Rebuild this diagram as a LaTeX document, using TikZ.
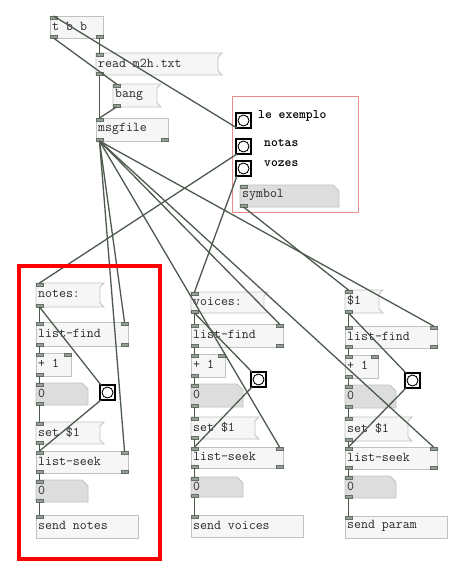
\documentclass[tikz,border=0pt]{standalone}
\usepackage{fontspec}
\definecolor{boxline}{RGB}{192,196,192}
\definecolor{boxfill}{RGB}{245,246,245}
\definecolor{atomfill}{RGB}{220,221,220}
\definecolor{ioletc}{RGB}{150,160,150}
\definecolor{ioletd}{RGB}{100,110,100}
\definecolor{connc}{RGB}{78,90,78}
\definecolor{textc}{RGB}{40,40,40}
\definecolor{framec}{RGB}{232,140,140}
\tikzset{
  objbox/.style={draw=boxline, fill=boxfill, line width=0.8pt},
  atombox/.style={draw=boxline, fill=atomfill, line width=0.8pt},
  iolet/.style={fill=ioletc, draw=ioletd, line width=0.4pt},
  conn/.style={draw=connc, line width=1.3pt},
  pdtext/.style={font=\ttfamily\fontsize{13.5}{13.5}\selectfont, text=textc, inner sep=0pt},
  bnglabel/.style={font=\ttfamily\bfseries\fontsize{13}{13}\selectfont, text=black, inner sep=0pt, anchor=west},
  bngsq/.style={draw=black, fill=white, line width=1.3pt},
  bngci/.style={draw=black, line width=0.9pt},
}
\newcommand{\pdports}[7]{%
  \path[iolet] (#2,#3) rectangle ++(7,3);
  \coordinate (#1-i) at ({#2+3.5},#3);
  \ifnum#6>1 \path[iolet] ({#4-7},#3) rectangle ++(7,3); \coordinate (#1-i1) at ({#4-3.5},#3);\fi
  \ifnum#7>0 \path[iolet] (#2,#5) rectangle ++(7,-3); \coordinate (#1-o) at ({#2+3.5},#5);\fi
  \ifnum#7>1 \path[iolet] ({#4-7},#5) rectangle ++(7,-3); \coordinate (#1-o1) at ({#4-3.5},#5);\fi
}
\newcommand{\pdobj}[8]{%
  \path[objbox] (#2,#3) rectangle (#4,#5);
  \node[pdtext, anchor=west] (#1) at ({#2+2},{(#3+#5)/2-1}) {#6};
  \pdports{#1}{#2}{#3}{#4}{#5}{#7}{#8}%
}
\newcommand{\pdmsg}[6]{%
  \path[objbox] (#2,#3) -- (#4,#3) -- ({#4-4},{#3+4}) -- ({#4-4},{#5-4}) -- (#4,#5) -- (#2,#5) -- cycle;
  \node[pdtext, anchor=west] (#1) at ({#2+2},{(#3+#5)/2-1}) {#6};
  \pdports{#1}{#2}{#3}{#4}{#5}{1}{1}%
}
\newcommand{\pdatom}[6]{%
  \path[atombox] (#2,#3) -- ({#4-6},#3) -- (#4,{#3+6}) -- (#4,#5) -- (#2,#5) -- cycle;
  \node[pdtext, anchor=west] (#1) at ({#2+2},{(#3+#5)/2-1}) {#6};
  \pdports{#1}{#2}{#3}{#4}{#5}{1}{1}%
}
\newcommand{\pdbng}[4]{%
  \path[bngsq] (#2,#3) rectangle ++(#4,#4);
  \path[bngci] ({#2+#4/2},{#3+#4/2}) circle[radius={#4/2-2}];
  \coordinate (#1-i) at ({#2+1},#3);
  \coordinate (#1-o) at ({#2+1},{#3+#4});
}
\begin{document}
\begin{tikzpicture}[x=1pt,y=-1pt]
\useasboundingbox (0,0) rectangle (472,575);
\fill[white] (0,0) rectangle (472,575);

% top section
\pdobj{tbb}{50}{16}{103}{38}{t b b}{1}{2}
\pdmsg{read}{96}{53}{222}{75}{read m2h.txt}
\pdmsg{bang}{113}{84}{161}{107}{bang}
\pdobj{msgf}{96}{118}{168}{141}{msgfile}{1}{2}

% frame with bangs
\draw[framec, line width=1pt] (232,97) rectangle (358,212);
\pdbng{bngle}{236}{113}{15}
\pdbng{bngno}{236}{139}{15}
\pdbng{bngvo}{236}{161}{15}
\node[bnglabel] (lle) at (258,116) {le exemplo};
\node[bnglabel] (lno) at (264,143) {notas};
\node[bnglabel] (lvo) at (264,164) {vozes};
\pdatom{symb}{240}{185}{339}{207}{symbol}

% notes column
\pdmsg{notes}{36}{283}{104}{307}{notes:}
\pdobj{nfind}{36}{322}{128}{346}{list-find}{2}{2}
\pdobj{nplus}{36}{353}{71}{376}{+ 1}{2}{1}
\pdatom{nnum}{36}{383}{88}{405}{0}
\pdmsg{nset}{36}{422}{104}{444}{set \$1}
\pdobj{nseek}{36}{451}{128}{473}{list-seek}{2}{2}
\pdatom{nnumb}{36}{480}{88}{502}{0}
\pdobj{nsend}{36}{515}{138}{538}{send notes}{1}{0}
\pdbng{nbng}{100}{385}{15}

% voices column
\pdmsg{voices}{191}{292}{268}{313}{voices:}
\pdobj{vfind}{191}{324}{283}{347}{list-find}{2}{2}
\pdobj{vplus}{191}{354}{225}{377}{+ 1}{2}{1}
\pdatom{vnum}{191}{384}{243}{407}{0}
\pdmsg{vset}{191}{417}{259}{439}{set \$1}
\pdobj{vseek}{191}{447}{283}{468}{list-seek}{2}{2}
\pdatom{vnumb}{191}{477}{243}{497}{0}
\pdobj{vsend}{191}{515}{303}{537}{send voices}{1}{0}
\pdbng{vbng}{251}{372}{15}

% param column
\pdmsg{dollar}{345}{290}{383}{313}{\$1}
\pdobj{pfind}{345}{326}{437}{348}{list-find}{2}{2}
\pdobj{pplus}{345}{355}{378}{378}{+ 1}{2}{1}
\pdatom{pnum}{345}{385}{396}{408}{0}
\pdmsg{pset}{345}{417}{412}{441}{set \$1}
\pdobj{pseek}{345}{447}{437}{469}{list-seek}{2}{2}
\pdatom{pnumb}{345}{476}{396}{498}{0}
\pdobj{psend}{345}{516}{447}{538}{send param}{1}{0}
\pdbng{pbng}{405}{373}{15}

% connections
\draw[conn] (bngle-o) -- (tbb-i);
\draw[conn] (tbb-o) -- (bang-i);
\draw[conn] (tbb-o1) -- (read-i);
\draw[conn] (read-o) -- (msgf-i);
\draw[conn] (bang-o) -- (msgf-i);
\draw[conn] (msgf-o) -- (nfind-i1);
\draw[conn] (msgf-o) -- (nseek-i1);
\draw[conn] (msgf-o) -- (vfind-i1);
\draw[conn] (msgf-o) -- (vseek-i1);
\draw[conn] (msgf-o) -- (pfind-i1);
\draw[conn] (msgf-o) -- (pseek-i1);
\draw[conn] (bngno-o) -- (notes-i);
\draw[conn] (bngvo-o) -- (voices-i);
\draw[conn] (symb-o) -- (dollar-i);
\foreach \h/\c in {notes/n, voices/v, dollar/p}{
  \draw[conn] (\h-o) -- (\c find-i);
  \draw[conn] (\h-o) -- (\c bng-i);
  \draw[conn] (\c find-o) -- (\c plus-i);
  \draw[conn] (\c plus-o) -- (\c num-i);
  \draw[conn] (\c num-o) -- (\c set-i);
  \draw[conn] (\c set-o) -- (\c seek-i);
  \draw[conn] (\c bng-o) -- (\c seek-i);
  \draw[conn] (\c seek-o) -- (\c numb-i);
  \draw[conn] (\c numb-o) -- (\c send-i);
}

% highlight
\draw[red, line width=4pt] (19,266) rectangle (160,559);
\end{tikzpicture}
\end{document}
